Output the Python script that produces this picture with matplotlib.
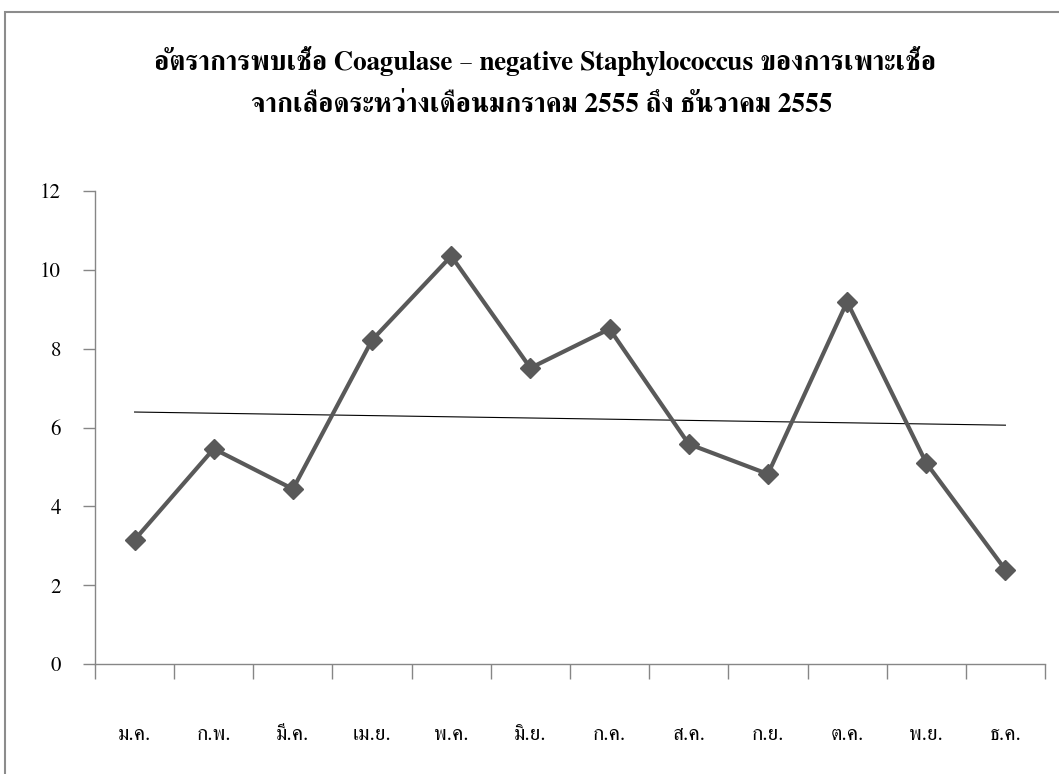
import matplotlib
matplotlib.use("Agg")
import matplotlib.pyplot as plt
import numpy as np
from matplotlib.patches import Rectangle

plt.rcParams["font.family"] = ["FreeSerif", "DejaVu Sans"]

months = ["ม.ค.", "ก.พ.", "มี.ค.", "เม.ย.", "พ.ค.", "มิ.ย.",
          "ก.ค.", "ส.ค.", "ก.ย.", "ต.ค.", "พ.ย.", "ธ.ค."]
rates = [3.15, 5.46, 4.44, 8.22, 10.35, 7.51, 8.50, 5.58, 4.82, 9.19, 5.10, 2.39]
title_lines = ["อัตราการพบเชื้อ Coagulase – negative Staphylococcus ของการเพาะเชื้อ",
               "จากเลือดระหว่างเดือนมกราคม 2555 ถึง ธันวาคม 2555"]

W, H = 1059, 774
fig = plt.figure(figsize=(W / 100, H / 100), dpi=100)
ax = fig.add_axes([95 / W, 1 - 664 / H, 950 / W, 473 / H])

x = np.arange(len(months))
ax.plot(x, rates, color="#595959", lw=3, marker="D", ms=10, zorder=3)

# linear trend line (Excel style)
slope, intercept = np.polyfit(x, rates, 1)
ax.plot(x, slope * x + intercept, color="black", lw=0.8, zorder=2)

ax.set_xlim(-0.5, len(months) - 0.5)
ax.set_ylim(0, 12)
ax.set_yticks(range(0, 13, 2))
ax.set_xticks(np.arange(-0.5, len(months), 1))
ax.set_xticklabels([])
ax.set_xticks(x, minor=True)
ax.set_xticklabels(months, minor=True)

ax.tick_params(axis="y", length=8.5, width=1, color="#868686", pad=16, labelsize=15)
ax.tick_params(axis="x", which="major", length=11, width=1, color="#868686")
ax.tick_params(axis="x", which="minor", length=0, pad=44, labelsize=15)

for s in ["top", "right"]:
    ax.spines[s].set_visible(False)
for s in ["left", "bottom"]:
    ax.spines[s].set_color("#868686")
    ax.spines[s].set_linewidth(1)

fig.text(545 / W, 1 - 70 / H, title_lines[0], ha="center", va="baseline",
         fontsize=19.5, fontweight="bold")
fig.text(542 / W, 1 - 112 / H, title_lines[1], ha="center", va="baseline",
         fontsize=19.5, fontweight="bold")

# chart border
fig.patches.append(Rectangle((5 / W, -0.1), 1.2, 1.1 - 12 / H, transform=fig.transFigure,
                             fill=False, edgecolor="#8c8c8c", lw=1.5))

fig.savefig("out.png", dpi=100)
